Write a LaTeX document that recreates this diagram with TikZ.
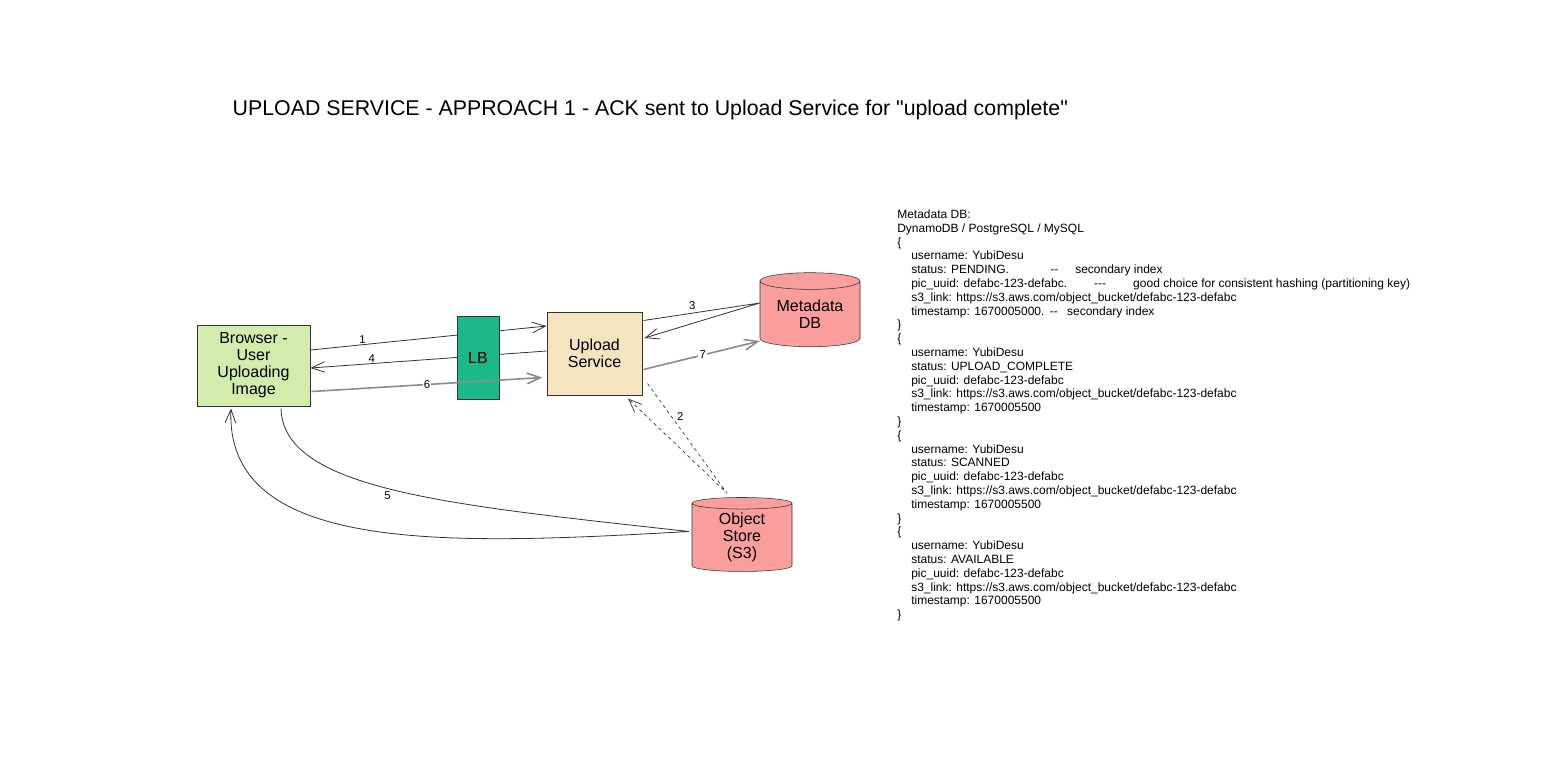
\documentclass[tikz,border=0pt]{standalone}
\usepackage{fontspec}
\setmainfont{Liberation Sans}
\usepackage{tikz}
\usetikzlibrary{arrows.meta, positioning, shapes.geometric, calc}
\definecolor{browsergreen}{RGB}{210,236,172}
\definecolor{lbgreen}{RGB}{27,184,137}
\definecolor{svcyellow}{RGB}{245,229,191}
\definecolor{dbred}{RGB}{249,157,157}
\definecolor{edgegray}{RGB}{140,140,140}
\definecolor{linedark}{RGB}{51,51,51}
\newcommand*{\recind}{\hspace*{10.5pt}}
\newcommand*{\notecol}[2]{\makebox[#1][l]{#2}}

\begin{document}
\begin{tikzpicture}[
        x=0.75pt, y=-0.75pt, >={Straight Barb[length=10pt,width=8pt]},
        font=\fontsize{12}{12.75}\selectfont,
        box/.style={draw=linedark, line width=0.75pt, align=center, inner sep=0pt},
        db/.style={cylinder, shape border rotate=90, aspect=0.25, draw=linedark, fill=dbred,
                   align=center, minimum width=75pt, minimum height=55.5pt, inner sep=0pt},
        flow/.style={draw=linedark, line width=0.6pt},
        back/.style={draw=edgegray, line width=1.2pt},
        num/.style={font=\fontsize{8.5}{10}\selectfont, inner sep=1pt},
        ]
        \path[fill=white] (0,0) rectangle (1558,770);
        \node[anchor=west, font=\fontsize{16}{19}\selectfont] (title) at (228,110)
            {UPLOAD SERVICE - APPROACH 1 - ACK sent to Upload Service for \textquotedbl upload complete\textquotedbl};

        \node[box, fill=browsergreen, minimum width=84.75pt, minimum height=60.75pt] (browser) at (253.5,365.5) {Browser -\\User\\Uploading\\Image};
        \node[box, fill=svcyellow, minimum width=71.25pt, minimum height=62.25pt] (upload) at (594.5,353.5) {Upload\\Service};
        \node[db] (meta_db) at (810,314) {Metadata\\DB};
        \node[db] (obj_store) at (742,537.5) {Object\\Store\\(S3)};

        \path[->] ($(browser.east)+(0,-15.5)$) edge[flow] node[num, above, inner sep=0.5pt, pos=0.22] {1} ($(upload.west)+(0,-27.5)$);
        \path[->] ($(upload.west)+(0,-2.5)$) edge[flow] node[num, above, inner sep=0.5pt, pos=0.74] {4} ($(browser.east)+(0,2.5)$);

        \node[box, fill=lbgreen, minimum width=31.5pt, minimum height=62.25pt] (lb) at (478,357.5) {LB};

        \path[->] ($(browser.east)+(1,26)$) edge[back] node[num, fill=white, pos=0.5] {6} ($(upload.west)+(-4,24)$);

        \coordinate (meta_in) at ($(meta_db.west)+(0,-11)$);
        \draw[flow, ->] ($(upload.east)+(1,-33)$) -- node[num, above, inner sep=2pt, pos=0.42] {3} (meta_in) -- ($(upload.east)+(2,-15.5)$);
        \path[->] ($(upload.east)+(1,16)$) edge[back] node[num, fill=white, pos=0.51] {7} ($(meta_db.west)+(0,27)$);

        \coordinate (s3_top) at ($(obj_store.north)+(-15,-4)$);
        \draw[flow, line width=0.5pt, dash pattern=on 2.5pt off 2.5pt, ->] ($(upload.south east)+(5,-12)$)
            -- node[num, right, inner sep=4pt, pos=0.3] {2} (s3_top) -- ($(upload.south)+(33.5,3)$);

        \coordinate (s3_tip) at ($(obj_store.west)+(-3,-6)$);
        \draw[flow, ->] ($(browser.south)+(27.5,2)$) .. controls (283,490) and (450,505) ..
            node[num, below, inner sep=2pt, pos=0.48] {5} (s3_tip)
            .. controls (450,545) and (225,555) .. ($(browser.south)+(-22.5,2)$);

        \node[anchor=north west, align=left, inner sep=0pt, font=\fontsize{9}{10.35}\selectfont] (meta_notes) at (897,209.5) {%
            Metadata DB:\\
            DynamoDB / PostgreSQL / MySQL\\
            \{\\
            \recind username: YubiDesu\\
            \recind \notecol{104.25pt}{status: PENDING.}\notecol{18.75pt}{{-}{-}}secondary index\\
            \recind \notecol{137.25pt}{pic\_uuid: defabc-123-defabc.}\notecol{29.25pt}{{-}{-}{-}}good choice for consistent hashing (partitioning key)\\
            \recind s3\_link: https://s3.aws.com/object\_bucket/defabc-123-defabc\\
            \recind timestamp: 1670005000.\hspace{4pt}{-}{-}\hspace{7pt}secondary index\\
            \}\\
            \{\\
            \recind username: YubiDesu\\
            \recind status: UPLOAD\_COMPLETE\\
            \recind pic\_uuid: defabc-123-defabc\\
            \recind s3\_link: https://s3.aws.com/object\_bucket/defabc-123-defabc\\
            \recind timestamp: 1670005500\\
            \}\\
            \{\\
            \recind username: YubiDesu\\
            \recind status: SCANNED\\
            \recind pic\_uuid: defabc-123-defabc\\
            \recind s3\_link: https://s3.aws.com/object\_bucket/defabc-123-defabc\\
            \recind timestamp: 1670005500\\
            \}\\
            \{\\
            \recind username: YubiDesu\\
            \recind status: AVAILABLE\\
            \recind pic\_uuid: defabc-123-defabc\\
            \recind s3\_link: https://s3.aws.com/object\_bucket/defabc-123-defabc\\
            \recind timestamp: 1670005500\\
            \}};
\end{tikzpicture}
\end{document}
